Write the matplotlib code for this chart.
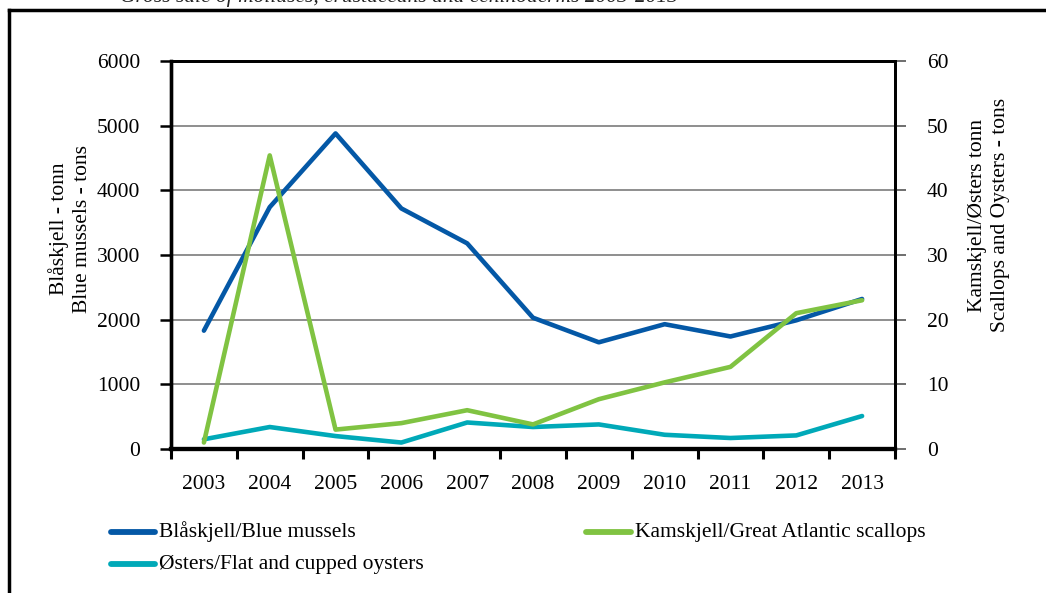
import matplotlib
matplotlib.use("Agg")
import matplotlib.pyplot as plt
from matplotlib.lines import Line2D

years = ["2003", "2004", "2005", "2006", "2007", "2008", "2009", "2010", "2011", "2012", "2013"]
blue_mussels = [1830, 3740, 4880, 3720, 3180, 2030, 1650, 1930, 1740, 1990, 2320]
scallops = [1.0, 45.4, 3.0, 4.0, 6.0, 3.8, 7.7, 10.3, 12.7, 21.0, 23.0]
oysters = [1.5, 3.4, 2.0, 1.0, 4.1, 3.4, 3.8, 2.2, 1.7, 2.1, 5.1]

c_blue = "#0458A6"
c_green = "#80C342"
c_cyan = "#00A9B8"
grid_c = "#8E8E8E"

plt.rcParams["font.family"] = ["Liberation Serif", "DejaVu Serif"]
FS = 15.5

fig = plt.figure(figsize=(10.46, 5.93), dpi=100)
W, H = 1046, 593

def fx(px):
    return px / W

def fy(py):
    return 1 - py / H

ax = fig.add_axes([fx(171), fy(449), fx(895) - fx(171), fy(61) - fy(449)])
ax2 = ax.twinx()

x = list(range(len(years)))
ax.set_xlim(-0.5, len(years) - 0.5)
ax.set_ylim(0, 6000)
ax2.set_ylim(0, 60)

ax.set_yticks(range(0, 6001, 1000))
ax2.set_yticks(range(0, 61, 10))
ax.yaxis.grid(True, color=grid_c, lw=1.4)
ax.set_axisbelow(True)

ax.set_xticks([i - 0.5 for i in range(len(years) + 1)])
ax.set_xticklabels([])
ax.set_xticks(x, minor=True)
ax.set_xticklabels(years, minor=True, fontsize=FS)
ax.tick_params(axis="x", which="major", direction="out", length=7, width=2.2, color="black")
ax.tick_params(axis="x", which="minor", length=0, pad=19)
ax.tick_params(axis="y", direction="out", length=8, width=1.8, color="black", labelsize=FS, pad=14)
ax2.tick_params(axis="y", direction="out", length=8, width=1.2, color="#555555", labelsize=FS, pad=15)

for a in (ax, ax2):
    for s in a.spines.values():
        s.set_color("black")
    a.spines["left"].set_linewidth(2.4)
    a.spines["right"].set_linewidth(2.0)
    a.spines["bottom"].set_linewidth(3.0)
    a.spines["top"].set_linewidth(2.0)

h1, = ax.plot(x, blue_mussels, color=c_blue, lw=3.3, solid_capstyle="round", zorder=3)
h3, = ax2.plot(x, oysters, color=c_cyan, lw=3.3, solid_capstyle="round", zorder=3)
h2, = ax2.plot(x, scallops, color=c_green, lw=3.3, solid_capstyle="round", zorder=4)

# axis titles
fig.text(fx(70), fy(229), "Blåskjell - tonn\nBlue mussels - tons", rotation=90,
         ha="center", va="center", fontsize=FS, linespacing=1.27)
fig.text(fx(989), fy(215), "Kamskjell/Østers tonn\nScallops and Oysters - tons", rotation=90,
         ha="center", va="center", fontsize=FS, linespacing=1.27)

# legend (manual placement)
def legend_item(px0, px1, py, color, label):
    fig.add_artist(Line2D([fx(px0), fx(px1)], [fy(py), fy(py)], color=color, lw=4.2,
                          solid_capstyle="round", transform=fig.transFigure))
    fig.text(fx(px1 + 4), fy(py), label, ha="left", va="center", fontsize=FS)

legend_item(111, 155, 532, c_blue, "Blåskjell/Blue mussels")
legend_item(586, 631, 532, c_green, "Kamskjell/Great Atlantic scallops")
legend_item(111, 155, 564, c_cyan, "Østers/Flat and cupped oysters")

# frame around figure
fig.add_artist(Line2D([fx(9), fx(1046)], [fy(10), fy(10)], color="black", lw=2.5,
                      transform=fig.transFigure))
fig.add_artist(Line2D([fx(9), fx(9)], [fy(10), fy(593)], color="black", lw=2.5,
                      transform=fig.transFigure))

# clipped caption at top (cut off by the page edge, as in the reference)
fig.text(fx(120), fy(2), "Gross sale of molluscs, crustaceans and echinoderms 2003-2013",
         ha="left", va="baseline", fontsize=FS, style="italic", color="#222222")

fig.savefig("out.png", dpi=100)
